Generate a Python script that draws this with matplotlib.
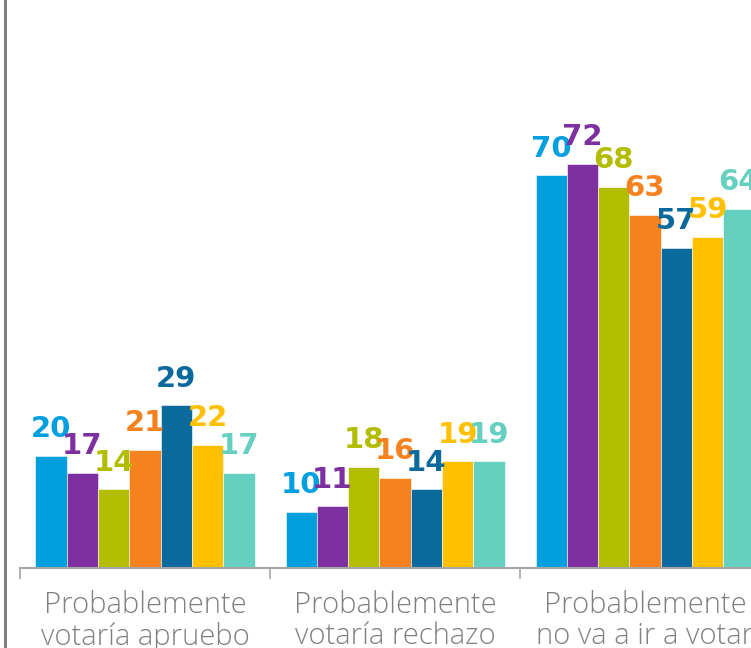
import matplotlib
matplotlib.use("Agg")
import matplotlib.pyplot as plt
from matplotlib.lines import Line2D
import numpy as np

categories = ["Probablemente\nvotaría apruebo", "Probablemente\nvotaría rechazo", "Probablemente\nno va a ir a votar"]
series_values = [
    [20, 10, 70],
    [17, 11, 72],
    [14, 18, 68],
    [21, 16, 63],
    [29, 14, 57],
    [22, 19, 59],
    [17, 19, 64],
]
colors = ["#009FDF", "#7E2FA0", "#B3BD00", "#F5821F", "#0A6A9E", "#FFC000", "#66D0C0"]

W, H = 751, 648
fig = plt.figure(figsize=(W / 100, H / 100), dpi=100)
ax = fig.add_axes([20 / W, 80 / H, (W - 20) / W, 568 / H])

n = len(series_values)
group_w = 0.876
bw = group_w / n
x = np.arange(len(categories))
for i, vals in enumerate(series_values):
    pos = x - group_w / 2 + bw * (i + 0.5)
    ax.bar(pos, vals, width=bw, color=colors[i], edgecolor="white", linewidth=0.4)
    for p, v in zip(pos, vals):
        ax.annotate(str(v), (p, v), xytext=(0, 13.5), textcoords="offset points",
                    ha="center", va="baseline", fontsize=21, fontweight="bold",
                    color=colors[i], family="DejaVu Sans", clip_on=False)

ax.set_xlim(-0.5, -0.5 + (W - 20) / 250)
ax.set_ylim(0, 568 / 5.61)
for s in ["top", "right", "left"]:
    ax.spines[s].set_visible(False)
ax.spines["bottom"].set_color("#A6A6A6")
ax.spines["bottom"].set_linewidth(1.5)
ax.set_yticks([])
ax.set_xticks([-0.5, 0.5, 1.5])
ax.set_xticks(x, minor=True)
ax.set_xticklabels([], minor=False)
ax.set_xticklabels(categories, minor=True, fontsize=21, color="#808080",
                   family="Open Sans", fontweight="light", linespacing=1.1)
ax.tick_params(axis="x", which="major", length=8, width=1.2, color="#A6A6A6", direction="out")
ax.tick_params(axis="x", which="minor", length=0, pad=16)

fig.add_artist(Line2D([4.5 / W, 4.5 / W], [0, 1], transform=fig.transFigure,
                      color="#7F7F7F", linewidth=2.2))

fig.savefig("out.png", dpi=100)
